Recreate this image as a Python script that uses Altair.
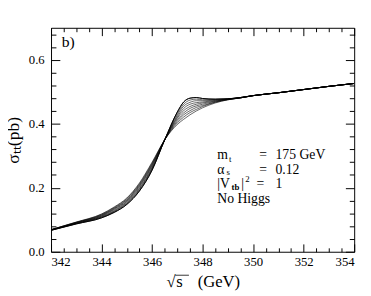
import altair as alt
import pandas as pd

# sqrt(s) grid (GeV)
sqrt_s = [342.0, 343.0, 344.0, 344.5, 345.0, 345.5, 346.0, 346.5, 347.0, 347.25,
          347.5, 347.75, 348.0, 348.5, 349.0, 349.5, 350.0, 351.0, 352.0, 353.0, 354.0]

# cross sections (pb), sharpest curve first
c1 = [0.067, 0.087, 0.106, 0.123, 0.148, 0.190, 0.255, 0.350, 0.437, 0.468, 0.480, 0.482, 0.479, 0.477, 0.478, 0.482, 0.488, 0.497, 0.507, 0.517, 0.526]
c2 = [0.067, 0.088, 0.108, 0.125, 0.151, 0.193, 0.258, 0.350, 0.432, 0.461, 0.474, 0.477, 0.475, 0.476, 0.478, 0.482, 0.488, 0.497, 0.507, 0.517, 0.526]
c3 = [0.068, 0.089, 0.109, 0.127, 0.153, 0.196, 0.261, 0.350, 0.427, 0.455, 0.467, 0.472, 0.472, 0.474, 0.477, 0.482, 0.488, 0.497, 0.507, 0.517, 0.526]
c4 = [0.068, 0.089, 0.111, 0.129, 0.156, 0.199, 0.264, 0.350, 0.422, 0.448, 0.461, 0.466, 0.468, 0.473, 0.477, 0.482, 0.488, 0.497, 0.507, 0.517, 0.526]
c5 = [0.068, 0.090, 0.112, 0.132, 0.158, 0.203, 0.268, 0.350, 0.418, 0.441, 0.454, 0.461, 0.465, 0.471, 0.477, 0.481, 0.488, 0.497, 0.507, 0.517, 0.526]
c6 = [0.068, 0.091, 0.114, 0.134, 0.161, 0.206, 0.271, 0.350, 0.413, 0.434, 0.448, 0.456, 0.461, 0.470, 0.476, 0.481, 0.488, 0.497, 0.507, 0.517, 0.526]
c7 = [0.069, 0.092, 0.115, 0.136, 0.163, 0.209, 0.274, 0.350, 0.408, 0.428, 0.441, 0.451, 0.457, 0.468, 0.476, 0.481, 0.488, 0.497, 0.507, 0.517, 0.526]
c8 = [0.069, 0.092, 0.117, 0.138, 0.166, 0.212, 0.277, 0.350, 0.403, 0.421, 0.435, 0.445, 0.454, 0.467, 0.475, 0.481, 0.488, 0.497, 0.507, 0.517, 0.526]
c9 = [0.069, 0.093, 0.118, 0.140, 0.168, 0.215, 0.280, 0.350, 0.398, 0.414, 0.428, 0.440, 0.450, 0.465, 0.475, 0.481, 0.488, 0.497, 0.507, 0.517, 0.526]

curves = [c1, c2, c3, c4, c5, c6, c7, c8, c9]

# axis ticks
x_major = [342, 344, 346, 348, 350, 352, 354]
x_minor = [342.5, 343, 343.5, 344.5, 345, 345.5, 346.5, 347, 347.5, 348.5, 349, 349.5,
           350.5, 351, 351.5, 352.5, 353, 353.5]
y_major = [0.0, 0.2, 0.4, 0.6]
y_minor = [0.04, 0.08, 0.12, 0.16, 0.24, 0.28, 0.32, 0.36, 0.44, 0.48, 0.52, 0.56, 0.64, 0.68]

y_title = "σₜₜ(pb)"

rows = []
for i, c in enumerate(curves):
    for xv, yv in zip(sqrt_s, c):
        rows.append({"s": xv, "sigma": yv, "curve": f"c{i+1}"})
df = pd.DataFrame(rows)

FONT = "Liberation Serif"
xs = alt.Scale(domain=[342, 354], nice=False, zero=False)
ys = alt.Scale(domain=[0, 0.7], nice=False)

base = alt.Chart(df)


def ax(orient, values, size, labels=False, fmt=None, **extra):
    kw = dict(orient=orient, values=values, tickSize=size, offset=-size, domain=False,
              grid=False, labels=labels, title=None, tickColor="black", tickWidth=1)
    if labels:
        kw.update(labelFont=FONT, labelFontSize=13, labelColor="black",
                  labelPadding=4 if orient == "bottom" else 7)
        if fmt:
            kw["format"] = fmt
    kw.update(extra)
    return alt.Axis(**kw)


left_axis = ax("left", y_major, 9, True, ".1f",
               title=y_title, titleFont=FONT, titleFontSize=18, titleFontWeight="normal",
               titleColor="black", titlePadding=6)

lines = base.mark_line(color="black", strokeWidth=0.6, interpolate="monotone", clip=True).encode(
    x=alt.X("s:Q", scale=xs, axis=ax("bottom", x_major, 8, True, "d")),
    y=alt.Y("sigma:Q", scale=ys, axis=left_axis),
    detail="curve:N",
)

sharp = base.transform_filter(alt.datum.curve == "c1").mark_line(
    color="black", strokeWidth=1.0, interpolate="monotone", clip=True).encode(
    x=alt.X("s:Q", scale=xs, axis=None),
    y=alt.Y("sigma:Q", scale=ys, axis=None),
)


def ghost(xa, ya):
    return base.mark_line(opacity=0).encode(
        x=alt.X("s:Q", scale=xs, axis=xa),
        y=alt.Y("sigma:Q", scale=ys, axis=ya),
        detail="curve:N",
    )


g1 = ghost(ax("bottom", x_minor, 4), ax("left", y_minor, 5))
g2 = ghost(ax("top", x_major, 8), ax("right", y_major, 9))
g3 = ghost(ax("top", x_minor, 4), ax("right", y_minor, 5))

one = pd.DataFrame({"a": [0]})


def txt(t, x, y, size=14, weight="normal", align="left"):
    kw = dict(text=t, font=FONT, fontSize=size, color="black", align=align,
              baseline="alphabetic", fontWeight=weight)
    return alt.Chart(one).mark_text(**kw).encode(x=alt.value(x), y=alt.value(y))


texts = [
    txt("b)", 11, 20, 16),
    txt("m", 170, 134), txt("t", 182, 137, 9),
    txt("=", 213, 134), txt("175 GeV", 229.5, 134),
    txt("α", 170, 149), txt("s", 179.5, 151, 9),
    txt("=", 213, 149), txt("0.12", 229.5, 149),
    txt("|V", 170, 164), txt("tb", 184.5, 166, 9, weight="bold"),
    txt("|", 194.5, 164), txt("2", 198.5, 158, 9),
    txt("=", 210, 164), txt("1", 229.5, 164),
    txt("No Higgs", 170, 179),
    txt("√", 118, 265, 17), txt("s", 128, 265, 17), txt("(GeV)", 150, 265, 17),
]

vinc = alt.Chart(one).mark_rule(color="black", strokeWidth=0.8).encode(
    x=alt.value(127), x2=alt.value(141), y=alt.value(253))

chart = alt.layer(lines, sharp, g1, g2, g3, *texts, vinc).resolve_axis(
    x="independent", y="independent"
).properties(
    width=310, height=229,
    padding={"left": 44, "top": 17, "right": 9, "bottom": 42},
    autosize=alt.AutoSizeParams(type="none"),
).configure_view(stroke="black", strokeWidth=1)

chart.save("out.html", embed_options={"renderer": "svg", "actions": False})
